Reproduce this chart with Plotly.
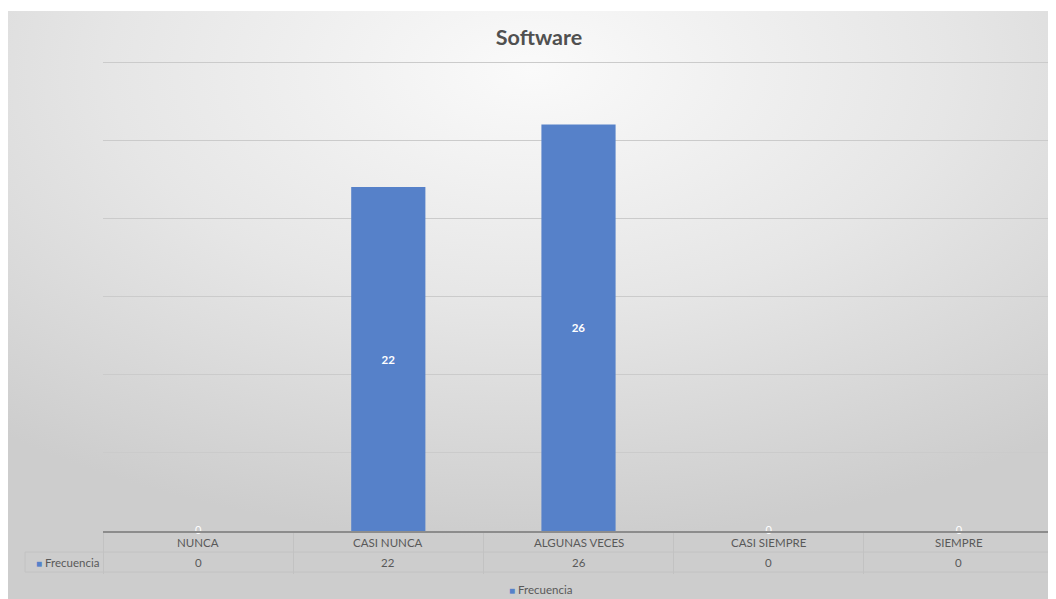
import base64
import plotly.graph_objects as go

# data
categorias = ["NUNCA", "CASI NUNCA", "ALGUNAS VECES", "CASI SIEMPRE", "SIEMPRE"]
frecuencia = [0, 22, 26, 0, 0]
serie = "Frecuencia"
titulo = "Software"

azul = "#5681C9"
gris_texto = "#595959"
fuente = "Lato"

# background gradient (Excel-like radial fill) as an svg image
svg = """<svg xmlns='http://www.w3.org/2000/svg' width='1048' height='588' preserveAspectRatio='none'>
<defs><radialGradient id='g' cx='0.5' cy='0.1' r='0.8' fx='0.5' fy='0.1'>
<stop offset='0' stop-color='#fafafa'/><stop offset='0.5' stop-color='#e6e6e6'/>
<stop offset='1' stop-color='#cdcdcd'/></radialGradient></defs>
<rect width='1048' height='588' fill='url(#g)'/></svg>"""
svg_uri = "data:image/svg+xml;base64," + base64.b64encode(svg.encode()).decode()

# page body has an 8px margin, so the figure starts at screen (8, 8)
OFF = 8
W, H = 1048, 591
ml, mr, mt, mb = 95, 2, 52, 68
pw, ph = W - ml - mr, H - mt - mb

# helpers take screen pixel positions
def px_x(p):
    return (p - OFF - ml) / pw

def px_y(p):
    return (H - mb - (p - OFF)) / ph

texto_barras = [str(v) if v else "" for v in frecuencia]
cat_cero = [c for c, v in zip(categorias, frecuencia) if v == 0]
val_cero = [v for v in frecuencia if v == 0]

fig = go.Figure()
fig.add_trace(go.Bar(
    x=categorias, y=frecuencia, name=serie,
    marker=dict(color=azul, line=dict(width=0)),
    text=texto_barras, textposition="inside", texttemplate="<b>%{text}</b>",
    insidetextanchor="middle",
    textfont=dict(color="white", size=11.5, family=fuente),
    hovertemplate="%{x}: %{y}<extra></extra>",
    showlegend=False,
))
# zero labels sit on the axis line
fig.add_trace(go.Scatter(
    x=cat_cero, y=val_cero, mode="text", text=[str(v) for v in val_cero],
    textposition="middle center", cliponaxis=False,
    textfont=dict(color="white", size=11, family=fuente),
    hoverinfo="skip", showlegend=False,
))

# table rows: category labels and values
for c, v in zip(categorias, frecuencia):
    fig.add_annotation(x=c, xref="x", y=px_y(542), yref="paper", text=c, showarrow=False,
                       font=dict(size=11.5, color=gris_texto, family=fuente), yanchor="middle")
    fig.add_annotation(x=c, xref="x", y=px_y(562), yref="paper", text=str(v), showarrow=False,
                       font=dict(size=11.5, color=gris_texto, family=fuente), yanchor="middle")

fig.add_annotation(x=px_x(101), xref="paper", y=px_y(562), yref="paper",
                   text="<span style='color:%s;font-size:10px'>■</span> %s" % (azul, serie),
                   showarrow=False, xanchor="right", yanchor="middle",
                   font=dict(size=11.5, color=gris_texto, family=fuente))

# legend
fig.add_annotation(x=px_x(540), xref="paper", y=px_y(589), yref="paper",
                   text="<span style='color:%s;font-size:10px'>■</span> %s" % (azul, serie),
                   showarrow=False, xanchor="center", yanchor="middle",
                   font=dict(size=11.5, color=gris_texto, family=fuente))

# table lines
linea = dict(color="#c2c2c2", width=1)
for yy in [552, 572]:
    fig.add_shape(type="line", xref="paper", yref="paper", x0=px_x(25), x1=1,
                  y0=px_y(yy), y1=px_y(yy), line=linea)
fig.add_shape(type="line", xref="paper", yref="paper", x0=px_x(25), x1=px_x(25),
              y0=px_y(552), y1=px_y(572), line=linea)

fig.add_layout_image(dict(source=svg_uri, xref="paper", yref="paper",
                          x=px_x(8), y=px_y(11), sizex=(W) / pw, sizey=(H - 3) / ph,
                          sizing="stretch", layer="below", xanchor="left", yanchor="top"))

fig.update_layout(
    width=W, height=H,
    margin=dict(l=ml, r=mr, t=mt, b=mb),
    paper_bgcolor="white", plot_bgcolor="rgba(0,0,0,0)",
    bargap=0.61,
    title=dict(text="<b>%s</b>" % titulo, x=(539 - OFF) / W, xanchor="center",
               y=1 - (37 - OFF) / H, yanchor="middle",
               font=dict(size=21.5, color="#505050", family=fuente)),
    showlegend=False,
    font=dict(family=fuente),
)
fig.update_xaxes(showticklabels=False, tickson="boundaries", ticks="outside", ticklen=41,
                 tickcolor="#c2c2c2", tickwidth=1, showgrid=False,
                 showline=True, linecolor="#8c8c8c", linewidth=2, zeroline=False)
fig.update_yaxes(range=[0, 30.13], tick0=0, dtick=5, showticklabels=False, showgrid=True,
                 gridcolor="#cbcbcb", gridwidth=1, zeroline=False, showline=False)

fig.write_html("out.html")
